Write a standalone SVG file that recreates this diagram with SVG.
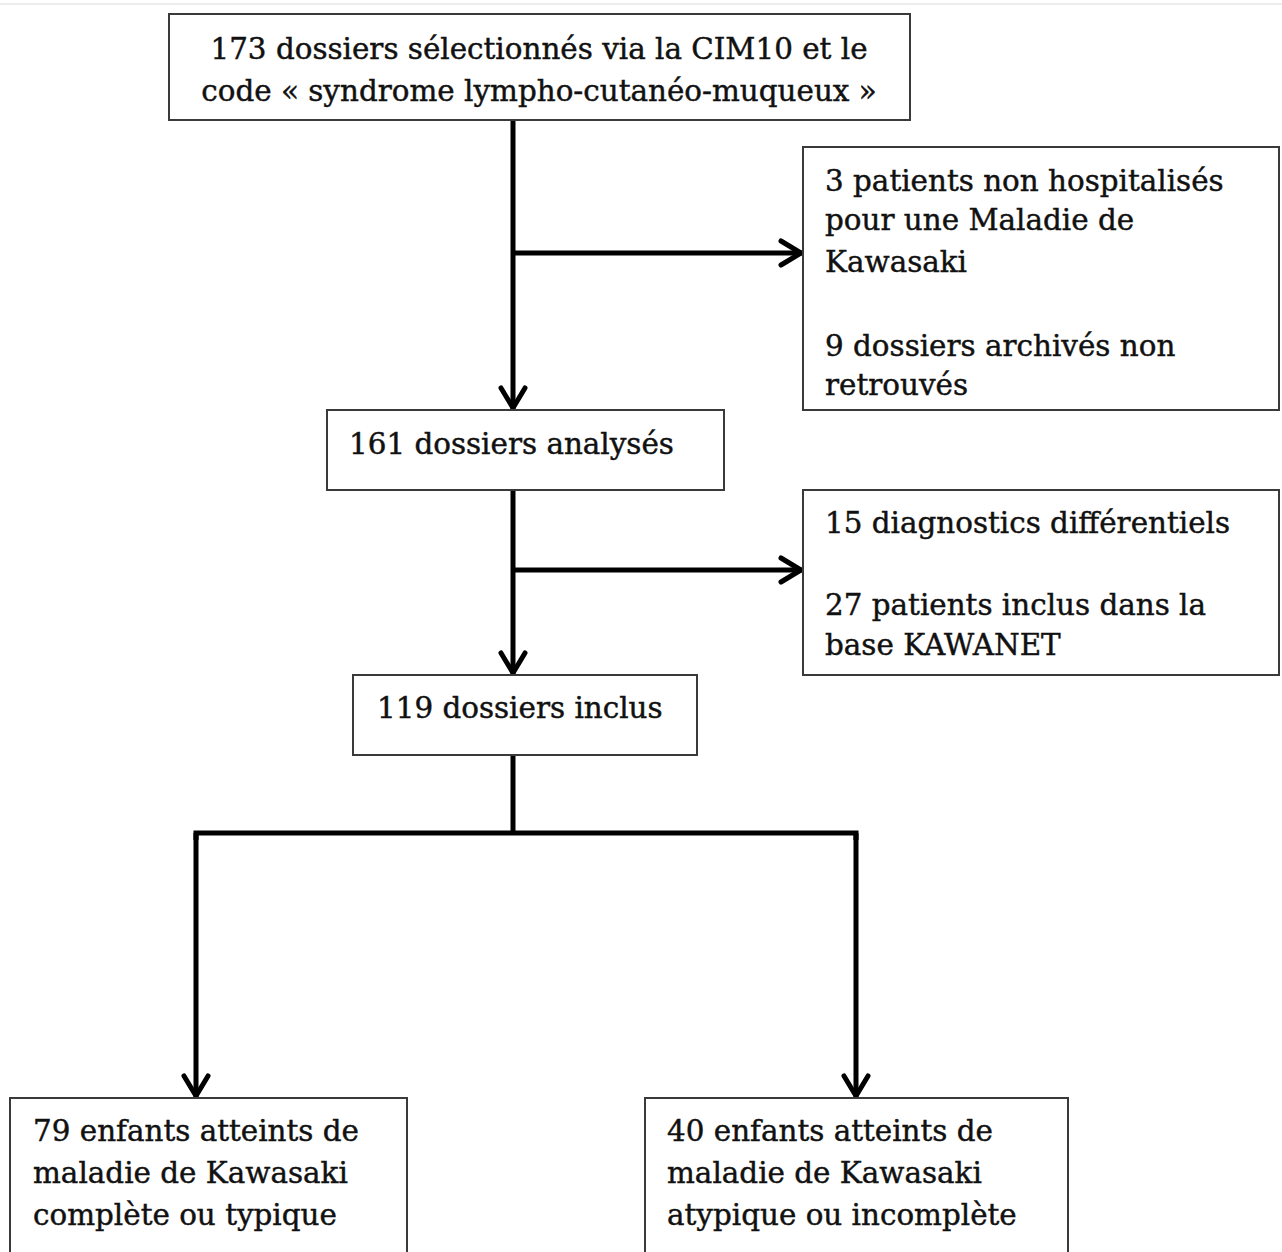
<svg xmlns="http://www.w3.org/2000/svg" width="1282" height="1252" viewBox="0 0 1282 1252">
<style>
.box{fill:#fff;stroke:#3a3a3a;stroke-width:2}
.t{font-family:"DejaVu Serif","Liberation Serif",serif;font-size:29.4px;fill:#111;stroke:#111;stroke-width:0.45}
.c{fill:none;stroke:#000;stroke-width:5}
</style>
<defs>
<marker id="ah" markerUnits="userSpaceOnUse" markerWidth="40" markerHeight="40" viewBox="-30 -20 40 40" refX="0" refY="0" orient="auto">
<path d="M-21,-12 L-1,0 L-21,12" fill="none" stroke="#000" stroke-width="5" stroke-linecap="round" stroke-linejoin="miter"/>
</marker>
</defs>
<rect width="1282" height="1252" fill="#fff"/>
<line x1="0" y1="4" x2="1282" y2="4" stroke="#ececec" stroke-width="2"/>
<g id="connectors">
<line class="c" x1="513" y1="120" x2="513" y2="409" marker-end="url(#ah)"/>
<line class="c" x1="513" y1="253" x2="802" y2="253" marker-end="url(#ah)"/>
<line class="c" x1="513" y1="490" x2="513" y2="674" marker-end="url(#ah)"/>
<line class="c" x1="513" y1="570" x2="802" y2="570" marker-end="url(#ah)"/>
<polyline class="c" points="513,755 513,833"/>
<polyline class="c" points="196,840 196,833 856,833 856,840" stroke-linejoin="miter"/>
<line class="c" x1="196" y1="833" x2="196" y2="1097" marker-end="url(#ah)"/>
<line class="c" x1="856" y1="833" x2="856" y2="1097" marker-end="url(#ah)"/>
</g>
<g id="n1"><rect class="box" x="169" y="14" width="741" height="106"/>
<text class="t" x="539" y="59" text-anchor="middle">173 dossiers sélectionnés via la CIM10 et le</text>
<text class="t" x="539" y="101" text-anchor="middle">code « syndrome lympho-cutanéo-muqueux »</text></g>
<g id="n2"><rect class="box" x="803" y="147" width="476" height="263"/>
<text class="t" x="825" y="191">3 patients non hospitalisés</text>
<text class="t" x="825" y="230">pour une Maladie de</text>
<text class="t" x="825" y="272">Kawasaki</text>
<text class="t" x="825" y="356">9 dossiers archivés non</text>
<text class="t" x="825" y="395">retrouvés</text></g>
<g id="n3"><rect class="box" x="327" y="410" width="397" height="80"/>
<text class="t" x="349" y="454">161 dossiers analysés</text></g>
<g id="n4"><rect class="box" x="803" y="490" width="476" height="185"/>
<text class="t" x="825" y="533">15 diagnostics différentiels</text>
<text class="t" x="825" y="615">27 patients inclus dans la</text>
<text class="t" x="825" y="655">base KAWANET</text></g>
<g id="n5"><rect class="box" x="353" y="675" width="344" height="80"/>
<text class="t" x="377" y="718">119 dossiers inclus</text></g>
<g id="n6"><rect class="box" x="10" y="1098" width="397" height="170"/>
<text class="t" x="33" y="1141">79 enfants atteints de</text>
<text class="t" x="33" y="1183">maladie de Kawasaki</text>
<text class="t" x="33" y="1225">complète ou typique</text></g>
<g id="n7"><rect class="box" x="645" y="1098" width="423" height="170"/>
<text class="t" x="667" y="1141">40 enfants atteints de</text>
<text class="t" x="667" y="1183">maladie de Kawasaki</text>
<text class="t" x="667" y="1225">atypique ou incomplète</text></g>
</svg>
